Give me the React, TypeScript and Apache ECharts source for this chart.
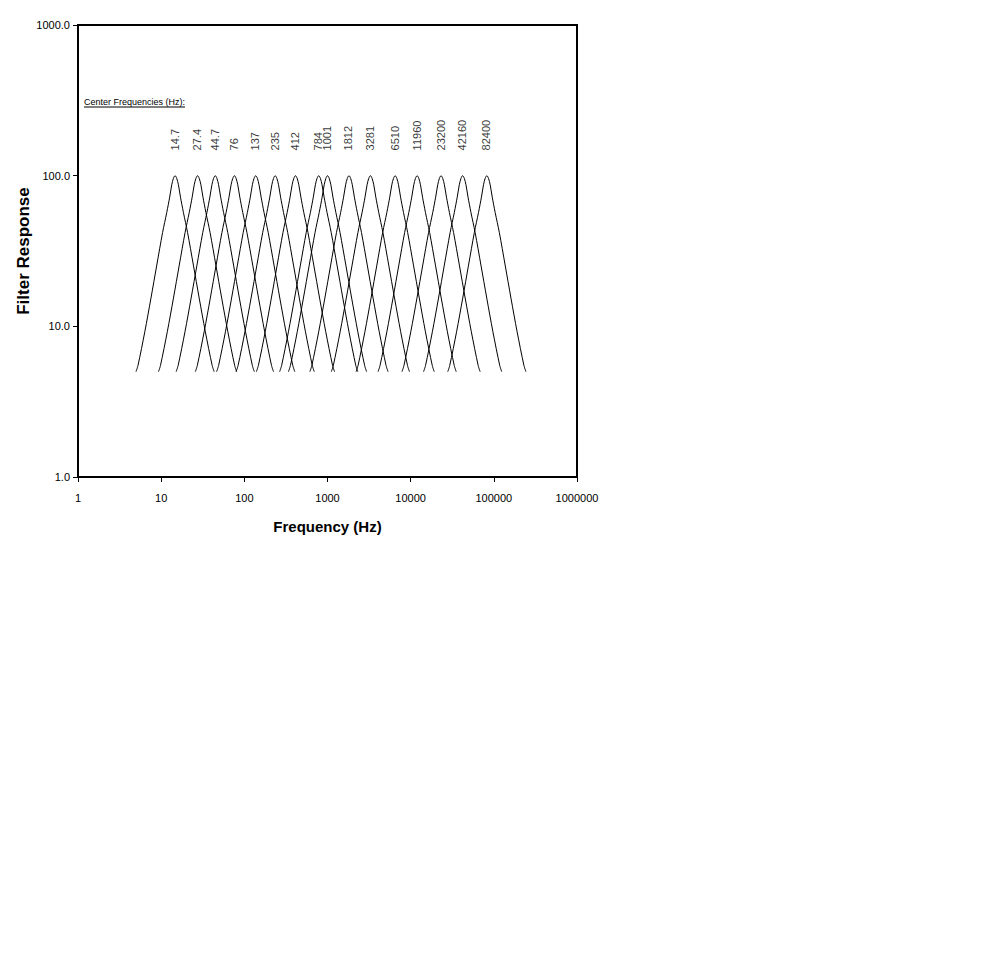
import React, { useEffect, useRef } from "react";
import * as echarts from "echarts";

// Center frequencies of the filter bank (Hz), as labelled in the chart
const centers = [14.7, 27.4, 44.7, 76, 137, 235, 412, 784, 1001, 1812, 3281, 6510, 11960, 23200, 42160, 82400];
const centerLabels = ["14.7", "27.4", "44.7", "76", "137", "235", "412", "784", "1001", "1812", "3281", "6510", "11960", "23200", "42160", "82400"];

// Shared filter shape: offset from the center (decades) and response value
const profileOffset = [-0.47, -0.446, -0.364, -0.29, -0.22, -0.15, -0.1, -0.065, -0.04, -0.02, 0, 0.02, 0.04, 0.065, 0.1, 0.15, 0.22, 0.29, 0.364, 0.446, 0.47];
const profileValue = [5, 5.5, 9.2, 15.4, 25.5, 42, 57, 72, 87, 96, 100, 96, 87, 72, 57, 42, 25.5, 15.4, 9.2, 5.5, 5];

// Axis ticks
const xTicks = [1, 10, 100, 1000, 10000, 100000, 1000000];
const yTicks = [1, 10, 100, 1000];

const labelLevel = 146;

export default function App() {
  const ref = useRef<HTMLDivElement>(null);
  useEffect(() => {
    if (!ref.current) return;
    const chart = echarts.init(ref.current, null, { renderer: "svg" });
    const font = "'Liberation Sans', Arial, sans-serif";
    const lineSeries = centers.map((c, i) => ({
      type: "line",
      name: centerLabels[i],
      showSymbol: false,
      symbol: "none",
      smooth: 0.3,
      lineStyle: { color: "#000", width: 1 },
      data: profileOffset.map((o, k) => [c * Math.pow(10, o), profileValue[k]]),
      z: 2,
    }));
    chart.setOption({
      animation: false,
      backgroundColor: "#fff",
      textStyle: { fontFamily: font },
      grid: { left: 78, top: 25, right: 423, bottom: 495, show: true, borderColor: "#000", borderWidth: 2, backgroundColor: "transparent" },
      xAxis: {
        type: "log",
        logBase: 10,
        min: xTicks[0],
        max: xTicks[xTicks.length - 1],
        name: "Frequency (Hz)",
        nameLocation: "middle",
        nameGap: 42,
        nameTextStyle: { fontFamily: font, fontWeight: "bold", fontSize: 15, color: "#000" },
        axisLine: { show: true, lineStyle: { color: "#000", width: 2 } },
        axisTick: { show: true, inside: false, length: 5, lineStyle: { color: "#000", width: 1 } },
        minorTick: { show: false },
        splitLine: { show: false },
        axisLabel: { fontSize: 11, color: "#000", margin: 15, fontFamily: font, formatter: (v: number) => String(Math.round(v)) },
      },
      yAxis: {
        type: "log",
        logBase: 10,
        min: yTicks[0],
        max: yTicks[yTicks.length - 1],
        name: "Filter Response",
        nameLocation: "middle",
        nameGap: 44,
        nameTextStyle: { fontFamily: font, fontWeight: "bold", fontSize: 17, color: "#000" },
        axisLine: { show: true, lineStyle: { color: "#000", width: 2 } },
        axisTick: { show: true, inside: false, length: 5, lineStyle: { color: "#000", width: 1 } },
        splitLine: { show: false },
        axisLabel: { fontSize: 11, color: "#000", margin: 8, fontFamily: font, formatter: (v: number) => v.toFixed(1) },
      },
      graphic: [
        { type: "text", left: 84, top: 97, style: { text: "Center Frequencies (Hz):", fontSize: 9, fontFamily: font, fill: "#000" } },
        { type: "line", shape: { x1: 84, y1: 107, x2: 185, y2: 107 }, style: { stroke: "#000", lineWidth: 1 } },
      ],
      series: [
        ...lineSeries,
        {
          type: "scatter",
          symbolSize: 1,
          itemStyle: { color: "rgba(0,0,0,0)" },
          data: centers.map((c, i) => ({ value: [c, labelLevel], name: centerLabels[i] })),
          label: {
            show: true,
            position: [0, 0],
            rotate: 90,
            align: "left",
            verticalAlign: "middle",
            fontSize: 11,
            fontFamily: font,
            color: "#000",
            formatter: (p: any) => p.name,
          },
          z: 3,
        },
      ],
    });
    return () => chart.dispose();
  }, []);
  return <div ref={ref} style={{ position: "fixed", left: 0, top: 0, width: 1000, height: 972, background: "#fff" }} />;
}
